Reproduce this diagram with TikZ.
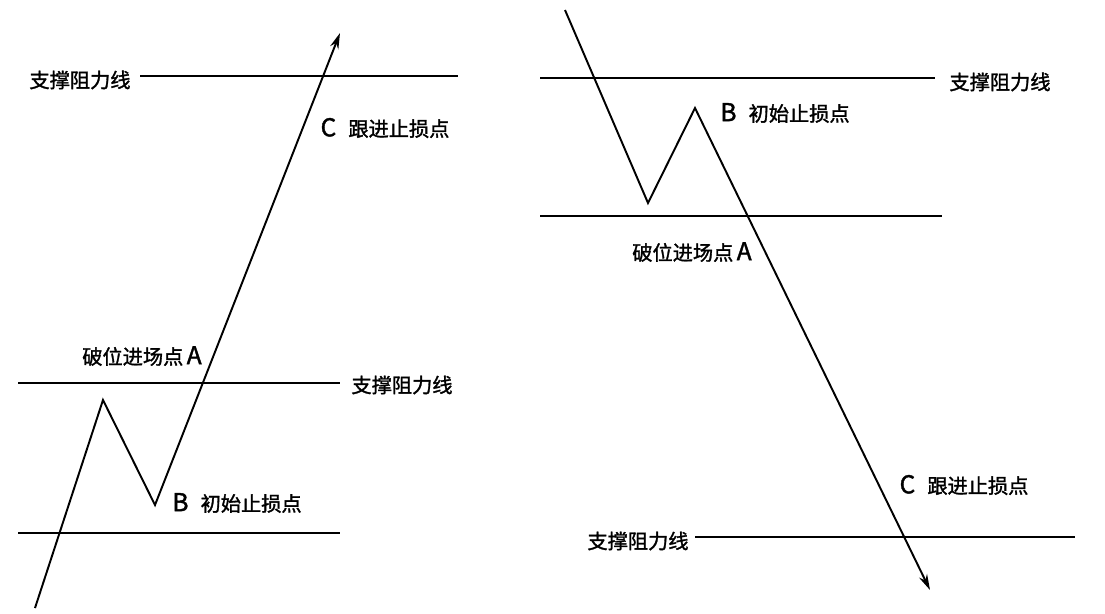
\documentclass[tikz,border=0pt]{standalone}
\usepackage{fontspec}
\setmainfont{Noto Sans CJK SC}[AutoFakeBold=1.5]
\usetikzlibrary{arrows.meta}
\newcommand{\ltr}[1]{{\fontsize{14}{14}\selectfont #1}}
\begin{document}
\begin{tikzpicture}[x=0.02cm,y=-0.02cm,
  lvl/.style={line width=1.1pt,black},
  path/.style={line width=1.1pt,black,-{Stealth[length=9pt,width=5pt]}},
  lab/.style={font=\fontsize{11.5}{13}\selectfont\bfseries,inner sep=0pt}]
\useasboundingbox[fill=white] (0,0) rectangle (1105,613);
% left panel
\coordinate (l1a) at (140,76); \coordinate (l1b) at (458,76);
\coordinate (l2a) at (18,383); \coordinate (l2b) at (340,383);
\coordinate (l3a) at (18,533); \coordinate (l3b) at (340,533);
\draw[lvl] (l1a)--(l1b); \draw[lvl] (l2a)--(l2b); \draw[lvl] (l3a)--(l3b);
\node[lab] (t1) at (80,80) {支撑阻力线};
\node[lab] (t2) at (402,385) {支撑阻力线};
\coordinate (p0) at (35,608); \coordinate (p1) at (103,400);
\coordinate (p2) at (155,505); \coordinate (p3) at (340,33);
\draw[path] (p0)--(p1)--(p2)--(p3);
\node[lab] (la) at (142,356) {破位进场点\,\ltr{A}};
\node[lab] (lb) at (237,503) {\ltr{B}\hspace{0.6em}初始止损点};
\node[lab] (lc) at (385,128) {\ltr{C}\hspace{0.6em}跟进止损点};
% right panel
\coordinate (r1a) at (540,78); \coordinate (r1b) at (935,78);
\coordinate (r2a) at (540,216); \coordinate (r2b) at (942,216);
\coordinate (r3a) at (695,537); \coordinate (r3b) at (1075,537);
\draw[lvl] (r1a)--(r1b); \draw[lvl] (r2a)--(r2b); \draw[lvl] (r3a)--(r3b);
\node[lab] (t3) at (1000,82) {支撑阻力线};
\node[lab] (t4) at (638,541) {支撑阻力线};
\coordinate (q0) at (565,10); \coordinate (q1) at (648,203);
\coordinate (q2) at (695,108); \coordinate (q3) at (930,590);
\draw[path] (q0)--(q1)--(q2)--(q3);
\node[lab] (rb) at (785,113) {\ltr{B}\hspace{0.6em}初始止损点};
\node[lab] (ra) at (692,252) {破位进场点\,\ltr{A}};
\node[lab] (rc) at (964,485) {\ltr{C}\hspace{0.6em}跟进止损点};
\end{tikzpicture}
\end{document}
